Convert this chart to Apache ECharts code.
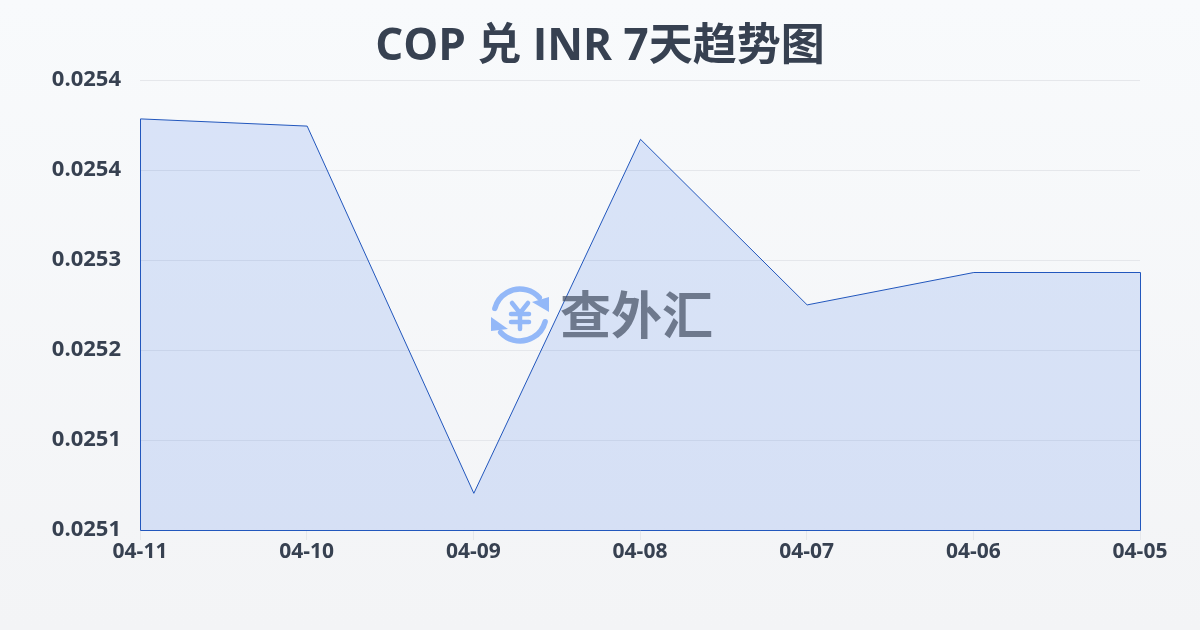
<!DOCTYPE html>
<html>
<head>
<meta charset="utf-8">
<style>
  html, body { margin: 0; padding: 0; }
  #chart { width: 1200px; height: 630px; }
</style>
<script src="https://cdn.jsdelivr.net/npm/echarts@6/dist/echarts.min.js"></script>
</head>
<body>
<div id="chart"></div>
<script>
const titleText = 'COP 兑 INR 7天趋势图'
const watermarkText = '查外汇'
const dates = ['04-11', '04-10', '04-09', '04-08', '04-07', '04-06', '04-05']
const rates = [0.025393, 0.025387, 0.025081, 0.025376, 0.025238, 0.025265, 0.025265]
const yTickLabels = ['0.0251', '0.0251', '0.0252', '0.0253', '0.0254', '0.0254']
const yMin = 0.02505
const yMax = 0.025425
const yStep = 0.000075

const fontFamily = '"Open Sans", "Noto Sans CJK SC", sans-serif'
const textColor = '#374151'
const logoColor = '#93b8f8'

const myChart = echarts.init(document.getElementById('chart'))

// 面积外框是闭合的,左右和底边也要描线,所以用 custom 画
const renderArea = (params, api) => {
    if (params.dataIndex !== 0) return
    const points = rates.map((v, i) => api.coord([i, v]))
    points.push(api.coord([rates.length - 1, yMin]))
    points.push(api.coord([0, yMin]))
    return {
        type: 'polygon',
        x: 0.5,
        y: 0.5,
        shape: { points: points },
        style: { fill: 'rgba(37,99,235,0.14)', stroke: '#2257bd', lineWidth: 1 }
    }
}

const logoStroke = { stroke: logoColor, lineWidth: 5.5, lineCap: 'round', fill: null }
const yenStroke = { stroke: logoColor, lineWidth: 4.5, lineCap: 'round', lineJoin: 'round', fill: null }

const option = {
    animation: false,
    backgroundColor: new echarts.graphic.LinearGradient(0, 0, 0, 1, [
        { offset: 0, color: '#f8fafc' },
        { offset: 1, color: '#f3f4f6' }
    ]),
    textStyle: { fontFamily: fontFamily },
    title: {
        text: titleText,
        left: 'center',
        top: 20,
        textStyle: { fontFamily: fontFamily, fontSize: 44, fontWeight: 'bold', color: textColor }
    },
    grid: { left: 140, right: 60, top: 80, bottom: 100 },
    xAxis: {
        type: 'category',
        data: dates,
        boundaryGap: false,
        axisLine: { show: false },
        axisTick: { show: true, length: 10, lineStyle: { color: '#e5e7eb' } },
        axisLabel: { fontSize: 21, fontWeight: 'bold', color: textColor, margin: 12, hideOverlap: false, interval: 0 }
    },
    yAxis: {
        type: 'value',
        min: yMin,
        max: yMax,
        interval: yStep,
        axisLine: { show: false },
        axisTick: { show: false },
        splitLine: { lineStyle: { color: '#e5e7eb', width: 1 } },
        axisLabel: {
            fontSize: 22,
            fontWeight: 'bold',
            color: textColor,
            margin: 19,
            padding: [0, 0, 4, 0],
            formatter: (value, index) => yTickLabels[index]
        }
    },
    series: [
        {
            type: 'custom',
            data: rates.map((v, i) => [i, v]),
            renderItem: renderArea,
            silent: true,
            z: 2
        }
    ],
    graphic: [
        { type: 'arc', z: 10, silent: true, shape: { cx: 520, cy: 315, r: 26, startAngle: 3.4, endAngle: 5.55 }, style: logoStroke },
        { type: 'arc', z: 10, silent: true, shape: { cx: 520, cy: 315, r: 26, startAngle: 0.26, endAngle: 2.41 }, style: logoStroke },
        { type: 'polygon', z: 10, silent: true, shape: { points: [[532, 302], [549, 297], [549, 312]] }, style: { fill: logoColor } },
        { type: 'polygon', z: 10, silent: true, shape: { points: [[491, 317], [491, 331], [508, 329]] }, style: { fill: logoColor } },
        { type: 'polyline', z: 10, silent: true, shape: { points: [[512, 303], [520, 313], [528, 303]] }, style: yenStroke },
        { type: 'line', z: 10, silent: true, shape: { x1: 520, y1: 313, x2: 520, y2: 329 }, style: yenStroke },
        { type: 'line', z: 10, silent: true, shape: { x1: 511, y1: 314, x2: 529, y2: 314 }, style: yenStroke },
        { type: 'line', z: 10, silent: true, shape: { x1: 511, y1: 322, x2: 529, y2: 322 }, style: yenStroke },
        {
            type: 'text',
            z: 10,
            silent: true,
            style: {
                text: watermarkText,
                x: 560,
                y: 315,
                verticalAlign: 'middle',
                fill: 'rgba(75,85,105,0.75)',
                font: 'bold 51px "Noto Sans CJK SC", sans-serif'
            }
        }
    ]
}
myChart.setOption(option)
</script>
</body>
</html>
